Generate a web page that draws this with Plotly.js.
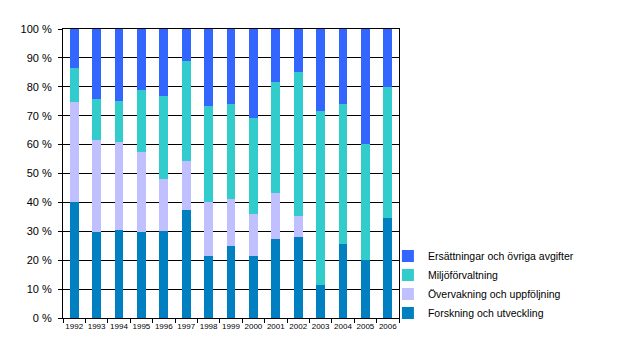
<!DOCTYPE html>
<html>
<head>
<meta charset="utf-8">
<script src="https://cdn.plot.ly/plotly-3.0.1.min.js"></script>
<style>
html,body{margin:0;padding:0;background:#fff;}
#chart{width:624px;height:358px;}
</style>
</head>
<body>
<div id="chart"></div>
<script>
const years = ["1992","1993","1994","1995","1996","1997","1998","1999","2000","2001","2002","2003","2004","2005","2006"];
const forskning = [40.0, 29.7, 30.5, 29.7, 30.2, 37.4, 21.5, 25.0, 21.5, 27.4, 28.1, 11.5, 25.7, 20.1, 34.7];
const overvakning = [34.8, 31.9, 30.5, 27.8, 18.0, 17.0, 18.7, 16.2, 14.5, 15.9, 7.2, 0, 0, 0, 0];
const miljo = [11.7, 14.2, 14.1, 21.4, 28.6, 34.7, 33.2, 32.9, 33.2, 38.4, 49.9, 60.2, 48.4, 40.2, 45.3];
const ersattningar = [13.5, 24.2, 24.9, 21.1, 23.2, 10.9, 26.6, 25.9, 30.8, 18.3, 14.8, 28.3, 25.9, 39.7, 20.0];
const seriesNames = ["Forskning och utveckling", "Övervakning och uppföljning", "Miljöförvaltning", "Ersättningar och övriga avgifter"];
const seriesColors = ["#0080C0", "#C0C0FF", "#33CCCC", "#3366FF"];
const seriesValues = [forskning, overvakning, miljo, ersattningar];

const traces = seriesValues.map((vals, i) => ({
  type: "bar",
  x: years,
  y: vals,
  name: seriesNames[i],
  marker: {color: seriesColors[i], line: {width: 0}},
  hoverinfo: "x+y+name"
}));

const layout = {
  width: 624,
  height: 358,
  margin: {l: 63, r: 225, t: 29, b: 40},
  paper_bgcolor: "#fff",
  plot_bgcolor: "#fff",
  barmode: "stack",
  bargap: 0.6,
  font: {family: "Liberation Sans, Arial, sans-serif", color: "#000"},
  xaxis: {
    type: "category",
    tickson: "boundaries",
    ticks: "outside",
    ticklen: 4,
    tickcolor: "#000",
    tickangle: 0,
    showline: true,
    linecolor: "#000",
    linewidth: 1,
    mirror: true,
    showgrid: false,
    tickfont: {size: 8, color: "#000"},
    fixedrange: true
  },
  yaxis: {
    range: [0, 100],
    dtick: 10,
    ticksuffix: " %",
    ticks: "outside",
    ticklen: 4,
    tickcolor: "#000",
    showline: true,
    linecolor: "#000",
    linewidth: 1,
    mirror: true,
    showgrid: true,
    gridcolor: "#000",
    gridwidth: 1,
    zeroline: false,
    tickfont: {size: 11, color: "#000"},
    ticklabelstandoff: 4,
    fixedrange: true
  },
  showlegend: true,
  legend: {
    traceorder: "reversed",
    x: 0.967,
    xanchor: "left",
    y: -0.033,
    yanchor: "bottom",
    font: {size: 10.5, color: "#000"},
    bgcolor: "rgba(0,0,0,0)"
  }
};

Plotly.newPlot("chart", traces, layout, {displayModeBar: false, staticPlot: true});
</script>
</body>
</html>
